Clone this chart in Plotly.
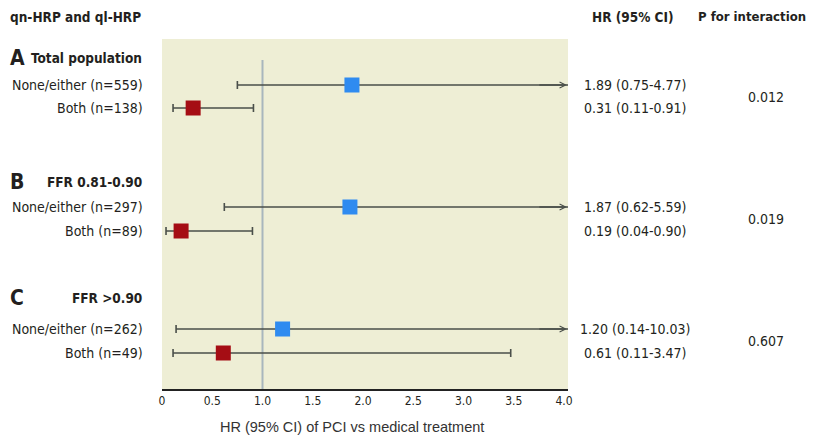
import plotly.graph_objects as go

# ---------------- data ----------------
groups = ["Total population", "FFR 0.81-0.90", "FFR >0.90"]
group_letters = ["A", "B", "C"]
row_labels = ["None/either (n=559)", "Both (n=138)",
              "None/either (n=297)", "Both (n=89)",
              "None/either (n=262)", "Both (n=49)"]
row_kind = ["none", "both", "none", "both", "none", "both"]
hr = [1.89, 0.31, 1.87, 0.19, 1.20, 0.61]
ci_low = [0.75, 0.11, 0.62, 0.04, 0.14, 0.11]
ci_high = [4.77, 0.91, 5.59, 0.90, 10.03, 3.47]
p_interaction = ["0.012", "0.019", "0.607"]
x_ticks = [0, 0.5, 1.0, 1.5, 2.0, 2.5, 3.0, 3.5, 4.0]
x_tick_labels = ["0", "0.5", "1.0", "1.5", "2.0", "2.5", "3.0", "3.5", "4.0"]

# ---------------- layout helpers ----------------
OFF = 8                      # page body margin offset of the plot div
W, H = 823 - OFF, 436 - OFF
ML, MR, MT, MB = 162 - OFF, 255, 39 - OFF, 47
PT, PB = 39, 389             # page y of plot top / bottom
XMAX = 4.04
# vertical positions (page-pixel-like units on a reversed y axis)
header_y = [58, 182, 298]
row_y = [85, 108, 207, 231, 329, 353]

FONT = "Liberation Sans Narrow, DejaVu Sans Condensed, Roboto, sans-serif"
TXT = "#231f20"
LINE = "#4a4f4a"
COL = {"none": "#2f8bf0", "both": "#a50d14"}
FS = 14

def px(xp):
    # page pixel x -> paper fraction
    return (xp - OFF - ML) / (W - ML - MR)

def py(yp):
    # page pixel y -> paper fraction
    return (PB - yp) / (PB - PT)

fig = go.Figure()

for kind in ["none", "both"]:
    idx = [i for i, k in enumerate(row_kind) if k == kind]
    fig.add_trace(go.Scatter(
        x=[hr[i] for i in idx],
        y=[row_y[i] for i in idx],
        mode="markers",
        marker=dict(symbol="square", size=15, color=COL[kind], line=dict(width=0)),
        error_x=dict(type="data", symmetric=False,
                     array=[ci_high[i] - hr[i] for i in idx],
                     arrayminus=[hr[i] - ci_low[i] for i in idx],
                     color=LINE, thickness=1.6, width=4),
        showlegend=False, hoverinfo="skip",
    ))

annotations = []
for i in range(len(hr)):
    if ci_high[i] > XMAX:
        annotations.append(dict(x=XMAX - 0.01, y=row_y[i], ax=XMAX - 0.3, ay=row_y[i],
                                xref="x", yref="y", axref="x", ayref="y",
                                showarrow=True, arrowhead=5, arrowsize=0.75,
                                arrowwidth=1.6, arrowcolor=LINE, text=""))

def txt(x, y, s, anchor, size, bold=False, family=FONT, color=TXT):
    annotations.append(dict(x=px(x), y=py(y), xref="paper", yref="paper",
                            text=("<b>%s</b>" % s) if bold else s, showarrow=False,
                            xanchor=anchor, yanchor="middle",
                            font=dict(family=family, size=size, color=color)))

txt(143, 17, "qn-HRP and ql-HRP", "right", 13.5, bold=True)
txt(633, 17, "HR (95% CI)", "center", 13.5, bold=True)
txt(808, 17, "P for interaction", "right", 13, bold=True)

for g in range(len(groups)):
    txt(8, header_y[g], group_letters[g], "left", 21, bold=True)
    txt(144, header_y[g], groups[g], "right", 13.5, bold=True)
    r1, r2 = row_y[2 * g], row_y[2 * g + 1]
    txt(766, (r1 + r2) / 2, p_interaction[g], "center", FS)

for i in range(len(hr)):
    txt(145, row_y[i], row_labels[i], "right", FS)
    txt(635, row_y[i], f"{hr[i]:.2f} ({ci_low[i]:.2f}-{ci_high[i]:.2f})", "center", FS)

txt(352, 427, "HR (95% CI) of PCI vs medical treatment", "center", 14.5,
    family="Liberation Sans, Arial, sans-serif", color="#333")

shapes = [dict(type="line", xref="x", yref="y", x0=1.0, x1=1.0, y0=60, y1=PB,
               line=dict(color="#a8b6bd", width=2), layer="below")]

fig.update_layout(
    width=W, height=H,
    margin=dict(l=ML, r=MR, t=MT, b=MB, pad=0),
    paper_bgcolor="white",
    plot_bgcolor="#eeeed5",
    annotations=annotations,
    shapes=shapes,
    xaxis=dict(range=[0, XMAX], tickvals=x_ticks, ticktext=x_tick_labels,
               showgrid=False, zeroline=False, showline=True, linecolor="#222",
               linewidth=2, ticks="", ticklen=0,
               tickfont=dict(family=FONT, size=12, color=TXT)),
    yaxis=dict(range=[PB, PT], showgrid=False, zeroline=False, showticklabels=False,
               showline=False, ticks=""),
)

fig.write_html("out.html")
